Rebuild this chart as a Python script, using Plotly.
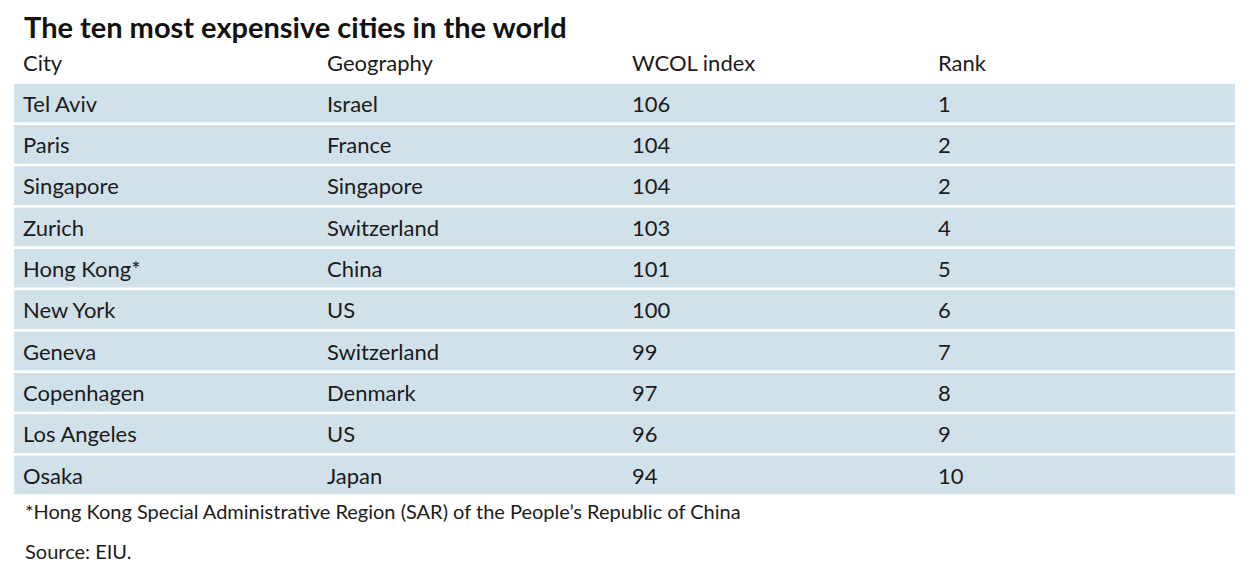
import plotly.graph_objects as go

# table content
cities = ["Tel Aviv", "Paris", "Singapore", "Zurich", "Hong Kong*",
          "New York", "Geneva", "Copenhagen", "Los Angeles", "Osaka"]
geography = ["Israel", "France", "Singapore", "Switzerland", "China",
             "US", "Switzerland", "Denmark", "US", "Japan"]
wcol_index = [106, 104, 104, 103, 101, 100, 99, 97, 96, 94]
rank = [1, 2, 2, 4, 5, 6, 7, 8, 9, 10]
headers = ["City", "Geography", "WCOL index", "Rank"]

title = "The ten most expensive cities in the world"
footnote = "*Hong Kong Special Administrative Region (SAR) of the People\u2019s Republic of China"
source = "Source: EIU."

# layout bits (x axis in page pixels)
W, H = 1252, 571
page_pad = 8          # browser body margin
col_x = [23, 327, 632, 938]
table_left = 14
table_width = 1221
text_dy = 0.08        # nudge text down a touch inside rows
row_fill = "#d1e1ea"
text_col = "#1b1b1b"
font = "Lato"

rows = list(range(len(cities)))
columns = [cities, geography, [str(v) for v in wcol_index], [str(r) for r in rank]]

fig = go.Figure()

# row backgrounds
fig.add_trace(go.Bar(
    y=rows, x=[table_width] * len(rows), base=table_left,
    orientation="h", width=0.934,
    marker=dict(color=row_fill, line=dict(width=0)),
    hoverinfo="skip", showlegend=False,
))

# header + cell text, one trace per column
for j, col in enumerate(columns):
    fig.add_trace(go.Scatter(
        x=[col_x[j]] * (len(col) + 1),
        y=[-1 + 0.1] + [r + text_dy for r in rows],
        text=[headers[j]] + col,
        mode="text", textposition="middle right",
        textfont=dict(family=font, size=22, color=text_col),
        hoverinfo="skip", showlegend=False,
    ))


def px(x):
    return (x - page_pad) / W


def py(y):
    return 1 - (y - page_pad) / H


fig.update_layout(
    width=W, height=H,
    margin=dict(l=0, r=0, t=0, b=0),
    paper_bgcolor="white", plot_bgcolor="white",
    xaxis=dict(range=[page_pad, W + page_pad], visible=False, fixedrange=True),
    yaxis=dict(range=[11.517, -2.2986], visible=False, fixedrange=True),
    annotations=[
        dict(text="<b>" + title + "</b>", x=px(23), y=1,
             xref="paper", yref="paper", xanchor="left", yanchor="top",
             borderpad=0,
             showarrow=False, font=dict(family=font, size=29, color="#111111")),
        dict(text=footnote, x=px(23), y=py(511),
             xref="paper", yref="paper", xanchor="left", yanchor="middle",
             showarrow=False, font=dict(family=font, size=20, color=text_col)),
        dict(text=source, x=px(23), y=py(551),
             xref="paper", yref="paper", xanchor="left", yanchor="middle",
             showarrow=False, font=dict(family=font, size=20, color=text_col)),
    ],
)

fig.write_html("out.html")
